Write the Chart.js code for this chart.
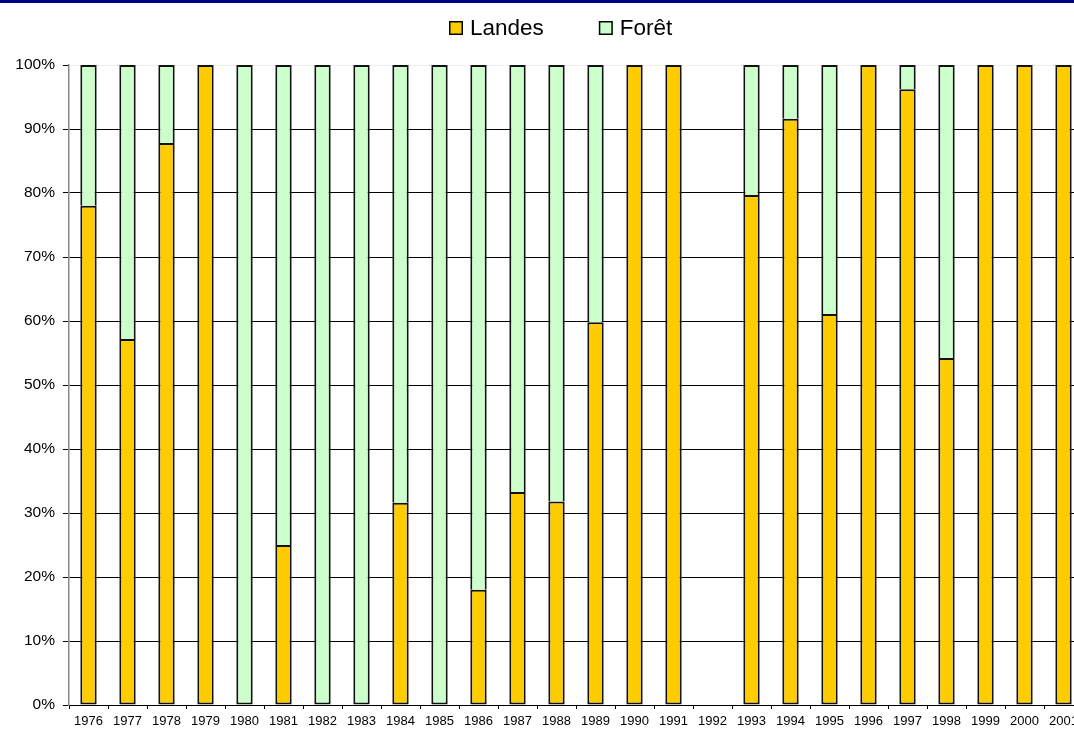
<!DOCTYPE html>
<html>
<head>
<meta charset="utf-8">
<script src="https://cdn.jsdelivr.net/npm/chart.js@4.4.1/dist/chart.umd.min.js"></script>
<style>
  html, body { margin: 0; padding: 0; background: #fff; overflow: hidden; }
  #topbar { position: absolute; left: 0; top: 0; width: 1074px; height: 3px; background: #000080; z-index: 2; }
  #wrap { position: absolute; left: 0; top: 0; width: 1090px; height: 729px; }
</style>
</head>
<body>
<div id="topbar"></div>
<div id="wrap"><canvas id="c"></canvas></div>
<script>
// Years on the horizontal axis
const years = ['1976','1977','1978','1979','1980','1981','1982','1983','1984','1985',
               '1986','1987','1988','1989','1990','1991','1992','1993','1994','1995',
               '1996','1997','1998','1999','2000','2001'];

// Share of each land type per year (%)
const landes = [78, 57.2, 87.8, 100, 0, 25, 0, 0, 31.6, 0,
                18, 33.3, 31.8, 59.8, 100, 100, 0, 79.7, 91.6, 61.1,
                100, 96.2, 54.2, 100, 100, 100];
const foret  = [22, 42.8, 12.2, 0, 100, 75, 100, 100, 68.4, 100,
                82, 66.7, 68.2, 40.2, 0, 0, 0, 20.3, 8.4, 38.9,
                0, 3.8, 45.8, 0, 0, 0];

const seriesNames = ['Landes', 'Forêt'];
const yTicks = [0, 10, 20, 30, 40, 50, 60, 70, 80, 90, 100];

const FONT = "'Liberation Sans', Arial, sans-serif";

// Legend drawn on the canvas: coloured square followed by the series name
const legendPlugin = {
  id: 'topLegend',
  afterDraw(chart) {
    const ctx = chart.ctx;
    ctx.save();
    ctx.font = '22.5px ' + FONT;
    ctx.textBaseline = 'middle';
    let x = 449;
    chart.data.datasets.forEach((ds, i) => {
      ctx.fillStyle = ds.backgroundColor;
      ctx.fillRect(x, 21, 14, 14);
      ctx.strokeStyle = '#000';
      ctx.lineWidth = 1.5;
      ctx.strokeRect(x + 0.75, 21.75, 12.5, 12.5);
      ctx.fillStyle = '#000';
      ctx.fillText(ds.label, x + 21, 29);
      x += 21 + ctx.measureText(ds.label).width + 55;
    });
    ctx.restore();
  }
};

new Chart(document.getElementById('c'), {
  type: 'bar',
  data: {
    labels: years,
    datasets: [
      { label: seriesNames[0], data: landes, backgroundColor: '#FFCC00', borderColor: '#111', borderWidth: 2, borderSkipped: false },
      // upper segment: its bottom edge is the lower segment's top border
      { label: seriesNames[1], data: foret,  backgroundColor: '#CCFFCC', borderColor: '#111', borderWidth: 2,
        borderSkipped: ctx => (landes[ctx.dataIndex] > 0 ? 'bottom' : false) }
    ]
  },
  options: {
    responsive: true,
    maintainAspectRatio: false,
    animation: false,
    devicePixelRatio: 1,
    layout: { padding: { top: 65, right: 7, left: 0, bottom: 0 } },
    datasets: { bar: { categoryPercentage: 1, barPercentage: 0.42 } },
    plugins: { legend: { display: false }, tooltip: { enabled: false } },
    scales: {
      x: {
        stacked: true,
        afterFit(s) { s.height = 24; },
        grid: { display: true, drawOnChartArea: false, offset: true, color: '#000', tickLength: 4, tickWidth: 1 },
        border: { display: true, color: '#000', width: 1 },
        ticks: { color: '#000', font: { family: FONT, size: 13 }, padding: 5, maxRotation: 0, autoSkip: false }
      },
      y: {
        stacked: true,
        min: 0,
        max: 100,
        afterFit(s) { s.width = 69; },
        afterBuildTicks(s) { s.ticks = yTicks.map(v => ({ value: v })); },
        grid: {
          color: ctx => (ctx.tick && ctx.tick.value === 100) ? '#eeeeee' : '#000',
          tickColor: '#000',
          tickLength: 6,
          lineWidth: 1
        },
        border: { display: true, color: '#888', width: 1.5 },
        ticks: {
          color: '#000',
          padding: 8,
          font: { family: FONT, size: 15.5 },
          callback: v => v + '%'
        }
      }
    }
  },
  plugins: [legendPlugin]
});
</script>
</body>
</html>
